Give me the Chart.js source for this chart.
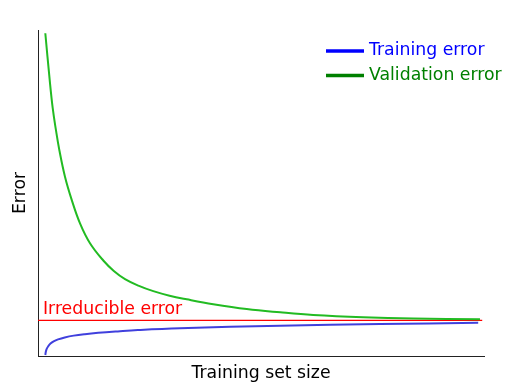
<!DOCTYPE html>
<html>
<head>
<meta charset="utf-8">
<script src="https://cdn.jsdelivr.net/npm/chart.js@4/dist/chart.umd.min.js"></script>
<style>
  html, body { margin: 0; padding: 0; background: #fff; }
  #wrap { width: 522px; height: 388px; }
</style>
</head>
<body>
<div id="wrap"><canvas id="chart" width="522" height="388"></canvas></div>
<script>
// values (x: training set size, y: error, both 0-100)
const validationX = [1.64, 2.62, 3.3, 4.0, 4.78, 6.05, 7.56, 9.42, 11.66, 14.64, 17.0, 19.51, 22.5, 25.85, 29.5, 33.34, 39.3, 46.8, 54.3, 61.7, 72.9, 84.1, 99.1];
const validationY = [99.0, 84.7, 76.0, 69.5, 63.2, 55.0, 47.9, 40.7, 34.6, 29.3, 26.1, 23.6, 21.6, 19.9, 18.5, 17.4, 15.9, 14.4, 13.4, 12.6, 11.9, 11.5, 11.3];

const trainingX = [1.64, 1.75, 1.95, 2.3, 2.8, 3.5, 4.5, 6.0, 8.0, 10.5, 13.5, 17.9, 22.4, 31.8, 54.3, 76.7, 98.7];
const trainingY = [0.3, 1.3, 2.2, 3.0, 3.8, 4.5, 5.1, 5.7, 6.25, 6.7, 7.1, 7.55, 7.95, 8.5, 9.3, 9.8, 10.2];

const irreducibleX = [0, 99.6];
const irreducibleY = [10.9, 10.9];

const FONT = { family: 'DejaVu Sans', size: 17.3 };

const toPoints = (xs, ys) => xs.map((x, i) => ({ x: x, y: ys[i] }));

// legend + label drawn inside the plot like the original
const overlay = {
  id: 'overlay',
  afterDatasetsDraw(chart) {
    const ctx = chart.ctx;
    const ca = chart.chartArea;
    ctx.save();
    ctx.font = FONT.size + 'px "DejaVu Sans"';
    ctx.textBaseline = 'middle';
    let row = 0;
    chart.data.datasets.forEach(ds => {
      if (!ds.legendColor) return;
      const y = ca.top + 21 + row * 24.5;
      ctx.strokeStyle = ds.legendColor;
      ctx.lineWidth = 3.5;
      ctx.beginPath();
      ctx.moveTo(ca.right - 158, y);
      ctx.lineTo(ca.right - 120, y);
      ctx.stroke();
      ctx.fillStyle = ds.legendColor;
      ctx.fillText(ds.label, ca.right - 115, y);
      row++;
    });
    const yRed = chart.scales.y.getPixelForValue(irreducibleY[0]);
    ctx.fillStyle = '#ff0000';
    ctx.textBaseline = 'bottom';
    ctx.fillText('Irreducible error', ca.left + 5, yRed - 2);
    ctx.restore();
  }
};

new Chart(document.getElementById('chart'), {
  type: 'line',
  data: {
    datasets: [
      {
        label: 'Training error',
        data: toPoints(trainingX, trainingY),
        borderColor: '#4040dd',
        legendColor: '#0000ff',
        borderWidth: 2,
        pointRadius: 0,
        tension: 0.4,
      },
      {
        label: 'Validation error',
        data: toPoints(validationX, validationY),
        borderColor: '#22bb22',
        legendColor: '#008000',
        borderWidth: 2,
        pointRadius: 0,
        tension: 0.4,
      },
      {
        label: 'Irreducible error',
        data: toPoints(irreducibleX, irreducibleY),
        borderColor: '#ff0000',
        borderWidth: 1.3,
        pointRadius: 0,
      },
    ],
  },
  options: {
    responsive: false,
    animation: false,
    events: [],
    layout: { padding: { top: 30, right: 38, left: 0, bottom: 0 } },
    plugins: { legend: { display: false }, tooltip: { enabled: false } },
    scales: {
      x: {
        type: 'linear',
        min: 0,
        max: 100,
        grid: { display: false },
        border: { color: '#222', width: 1 },
        ticks: { display: false },
        title: { display: true, text: 'Training set size', color: '#000', font: FONT, padding: { top: 4, bottom: 4 } },
        afterFit: s => { s.height = 32; },
      },
      y: {
        type: 'linear',
        min: 0,
        max: 100,
        grid: { display: false },
        border: { color: '#222', width: 1 },
        ticks: { display: false },
        title: { display: true, text: 'Error', color: '#000', font: FONT, padding: { top: 10, bottom: 0 } },
        afterFit: s => { s.width = 38; },
      },
    },
  },
  plugins: [overlay],
});
</script>
</body>
</html>
